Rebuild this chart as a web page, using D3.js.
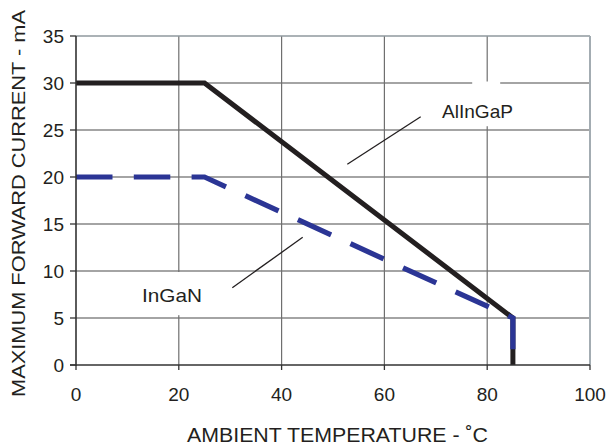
<!DOCTYPE html>
<html>
<head>
<meta charset="utf-8">
<script src="https://cdn.jsdelivr.net/npm/d3@7"></script>
<style>
  html, body { margin: 0; padding: 0; background: #fff; }
  svg { display: block; }
  text { font-family: "Liberation Sans", Arial, Helvetica, sans-serif; fill: #231f20; }
</style>
</head>
<body>
<svg id="chart" width="610" height="447"></svg>
<script>
// ---- data ----
const xTicks = [0, 20, 40, 60, 80, 100];
const yTicks = [0, 5, 10, 15, 20, 25, 30, 35];
const alingapTemp = [0, 25, 85, 85];
const alingapCurrent = [30, 30, 5, 0];
const ingaNTemp = [0, 25, 85, 85];
const ingaNCurrent = [20, 20, 5, 0];
const xTitle = "AMBIENT TEMPERATURE - ˚C";
const yTitle = "MAXIMUM FORWARD CURRENT - mA";
const labels = ["AlInGaP", "InGaN"];

// ---- layout ----
const svg = d3.select("#chart");
const x = d3.scaleLinear().domain([0, 100]).range([76, 590]);
const y = d3.scaleLinear().domain([0, 35]).range([365, 36]);

// horizontal gridlines
svg.append("g").selectAll("line")
  .data(yTicks.filter(d => d > 0 && d < 35))
  .join("line")
  .attr("x1", x(0)).attr("x2", x(100))
  .attr("y1", d => y(d)).attr("y2", d => y(d))
  .attr("stroke", "#4a4a4a").attr("stroke-width", 1.1);

// vertical gridlines
svg.append("g").selectAll("line")
  .data(xTicks.filter(d => d > 0 && d < 100))
  .join("line")
  .attr("x1", d => x(d)).attr("x2", d => x(d))
  .attr("y1", y(0)).attr("y2", y(35))
  .attr("stroke", "#6f6f6f").attr("stroke-width", 1.2);

// top and right borders
svg.append("line")
  .attr("x1", x(0)).attr("x2", x(100)).attr("y1", y(35)).attr("y2", y(35))
  .attr("stroke", "#8f989e").attr("stroke-width", 1.6);
svg.append("line")
  .attr("x1", x(100)).attr("x2", x(100)).attr("y1", y(0)).attr("y2", y(35))
  .attr("stroke", "#a3acb2").attr("stroke-width", 2);

// white label boxes (mask gridlines behind labels)
svg.append("rect")
  .attr("x", x(80) - 15).attr("y", y(30) - 1.5)
  .attr("width", 28).attr("height", y(25.4) - y(30) + 1.5)
  .attr("fill", "#fff");
svg.append("rect")
  .attr("x", x(20) - 8).attr("y", y(10) + 1)
  .attr("width", 16).attr("height", y(5.3) - y(10) - 1)
  .attr("fill", "#fff");

// leader lines
svg.append("line")
  .attr("x1", 420.7).attr("y1", 116.7).attr("x2", 347.3).attr("y2", 164.3)
  .attr("stroke", "#231f20").attr("stroke-width", 1.3);
svg.append("line")
  .attr("x1", 302.7).attr("y1", 237.3).attr("x2", 232.3).attr("y2", 287.7)
  .attr("stroke", "#231f20").attr("stroke-width", 1.3);

// data lines
const line = d3.line().x(d => x(d[0])).y(d => y(d[1]));
const alData = alingapTemp.map((t, i) => [t, alingapCurrent[i]]);
const inData = ingaNTemp.map((t, i) => [t, ingaNCurrent[i]]);

svg.append("path").datum(alData)
  .attr("d", line).attr("fill", "none")
  .attr("stroke", "#231f20").attr("stroke-width", 5)
  .attr("stroke-linejoin", "miter");

svg.append("path").datum(inData)
  .attr("d", line).attr("fill", "none")
  .attr("stroke", "#2b3595").attr("stroke-width", 5.2)
  .attr("stroke-dasharray", "36.5,21.3")
  .attr("stroke-linejoin", "miter");

// axes lines
svg.append("line")
  .attr("x1", x(0)).attr("x2", x(0)).attr("y1", y(0) + 1).attr("y2", y(35))
  .attr("stroke", "#333").attr("stroke-width", 1.6);
svg.append("line")
  .attr("x1", x(0) - 6).attr("x2", x(100)).attr("y1", y(0)).attr("y2", y(0))
  .attr("stroke", "#333").attr("stroke-width", 1.6);

// y ticks
svg.append("g").selectAll("line")
  .data(yTicks).join("line")
  .attr("x1", x(0) - 6).attr("x2", x(0))
  .attr("y1", d => y(d)).attr("y2", d => y(d))
  .attr("stroke", "#333").attr("stroke-width", 1.3);
svg.append("g").selectAll("text")
  .data(yTicks).join("text")
  .attr("x", 64).attr("y", d => y(d)).attr("dy", "0.35em")
  .attr("text-anchor", "end").attr("font-size", 19)
  .text(d => d);

// x ticks
svg.append("g").selectAll("line")
  .data(xTicks).join("line")
  .attr("x1", d => x(d)).attr("x2", d => x(d))
  .attr("y1", y(0)).attr("y2", y(0) + 5)
  .attr("stroke", "#333").attr("stroke-width", 1.3);
svg.append("g").selectAll("text")
  .data(xTicks).join("text")
  .attr("x", d => x(d)).attr("y", 401)
  .attr("text-anchor", "middle").attr("font-size", 19)
  .text(d => d);

// labels
svg.append("text").attr("x", 442).attr("y", 118)
  .attr("font-size", 19).attr("textLength", 71).attr("lengthAdjust", "spacingAndGlyphs")
  .text(labels[0]);
svg.append("text").attr("x", 142).attr("y", 302)
  .attr("font-size", 19).attr("textLength", 60).attr("lengthAdjust", "spacingAndGlyphs")
  .text(labels[1]);

// axis titles
svg.append("text").attr("x", 337.5).attr("y", 442)
  .attr("text-anchor", "middle").attr("font-size", 20.5)
  .attr("textLength", 301).attr("lengthAdjust", "spacingAndGlyphs")
  .text(xTitle);
svg.append("text")
  .attr("transform", "translate(25,203.5) rotate(-90)")
  .attr("text-anchor", "middle").attr("font-size", 19)
  .attr("textLength", 387).attr("lengthAdjust", "spacingAndGlyphs")
  .text(yTitle);
</script>
</body>
</html>
